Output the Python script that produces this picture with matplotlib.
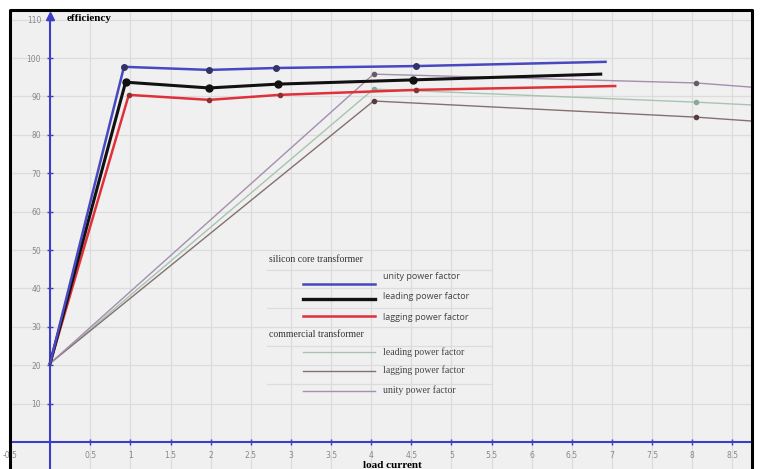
import numpy as np
import matplotlib
matplotlib.use('Agg')
import matplotlib.pyplot as plt

# ── Data ────────────────────────────────────────────────────────────────
# silicon core transformer
si_unity_x = [0, 0.92, 1.98, 2.82, 4.56, 6.92]
si_unity_y = [20.5, 97.7, 96.9, 97.4, 97.9, 99.0]
si_lead_x = [0, 0.94, 1.98, 2.84, 4.52, 6.86]
si_lead_y = [20.5, 93.7, 92.2, 93.2, 94.3, 95.8]
si_lag_x = [0, 0.98, 1.98, 2.86, 4.56, 7.04]
si_lag_y = [20.5, 90.4, 89.1, 90.4, 91.7, 92.7]

# commercial transformer
com_x = [0, 4.03, 8.05, 9.0]
com_lead_y = [20.5, 91.9, 88.5, 87.5]
com_lag_y = [20.5, 88.8, 84.6, 83.2]
com_unity_y = [20.5, 95.8, 93.5, 92.0]

x_ticks = [-0.5, 0.5, 1, 1.5, 2, 2.5, 3, 3.5, 4, 4.5, 5, 5.5, 6, 6.5, 7, 7.5, 8, 8.5]
x_tick_labels = ['-0.5', '0.5', '1', '1.5', '2', '2.5', '3', '3.5', '4', '4.5',
                 '5', '5.5', '6', '6.5', '7', '7.5', '8', '8.5']
y_ticks = [10, 20, 30, 40, 50, 60, 70, 80, 90, 100, 110]

legend_groups = [
    ('silicon core transformer', ['unity power factor', 'leading power factor', 'lagging power factor']),
    ('commercial transformer', ['leading power factor', 'lagging power factor', 'unity power factor']),
]

# ── Styles ──────────────────────────────────────────────────────────────
axis_blue = '#3e3ec4'
c_si_unity = '#4848c0'
c_si_lead = '#111111'
c_si_lag = '#e0303a'
c_com_lead = '#a8c4b0'
c_com_lag = '#857070'
c_com_unity = '#a58eae'

fig = plt.figure(figsize=(7.61, 4.69), dpi=100)
fig.patch.set_facecolor('white')
ax = fig.add_axes([10 / 761, 0, 742 / 761, 459 / 469])
ax.set_facecolor('#f0f0f0')

ax.set_xlim(-0.472, 8.745)
ax.set_ylim(-7.03, 112.5)

# grid
for gx in np.arange(-0.5, 9, 0.5):
    ax.axvline(gx, color='#dcdcdc', lw=0.9, zorder=0)
for gy in y_ticks:
    ax.axhline(gy, color='#dcdcdc', lw=0.9, zorder=0)

# ── Lines ───────────────────────────────────────────────────────────────
ax.plot(com_x, com_lead_y, color=c_com_lead, lw=1.0, marker='o', ms=3, markevery=[1, 2],
        mfc='#8aa898', mec='#8aa898', zorder=2)
ax.plot(com_x, com_lag_y, color=c_com_lag, lw=1.0, marker='o', ms=3, markevery=[1, 2],
        mfc='#5a3c3c', mec='#5a3c3c', zorder=2)
ax.plot(com_x, com_unity_y, color=c_com_unity, lw=1.0, marker='o', ms=3, markevery=[1, 2],
        mfc='#6a5a6a', mec='#6a5a6a', zorder=2)

ax.plot(si_lag_x, si_lag_y, color=c_si_lag, lw=1.8, marker='o', ms=3, markevery=[1, 2, 3, 4],
        mfc='#8a3030', mec='#8a3030', zorder=3)
ax.plot(si_lead_x, si_lead_y, color=c_si_lead, lw=2.2, marker='o', ms=5, markevery=[1, 2, 3, 4],
        zorder=3)
ax.plot(si_unity_x, si_unity_y, color=c_si_unity, lw=1.8, marker='o', ms=4, markevery=[1, 2, 3, 4],
        mfc='#333366', mec='#333366', zorder=3)

# ── Axes through the origin ────────────────────────────────────────────
for side in ['top', 'right']:
    ax.spines[side].set_visible(False)
ax.spines['left'].set_position(('data', 0))
ax.spines['bottom'].set_position(('data', 0))
ax.spines['left'].set_color(axis_blue)
ax.spines['bottom'].set_color(axis_blue)
ax.spines['left'].set_linewidth(1.5)
ax.spines['bottom'].set_linewidth(1.5)
ax.spines['left'].set_bounds(-7.03, 110.5)
ax.spines['left'].set_zorder(1)
ax.spines['bottom'].set_zorder(1)
ax.plot([0], [111], marker='^', color=axis_blue, ms=6, clip_on=False, zorder=4)

ax.set_xticks(x_ticks)
ax.set_xticklabels(x_tick_labels)
ax.set_yticks(y_ticks)
ax.tick_params(direction='inout', length=5, width=1, color=axis_blue,
               labelsize=5.5, labelcolor='#888888', pad=4)

# outer black frame (top, left, right)
ax.plot([0, 0, 1, 1], [0, 1, 1, 0], transform=ax.transAxes, color='black',
        lw=2.2, clip_on=False, zorder=5)

ax.text(0.2, 110.4, 'efficiency', family='Liberation Serif', weight='bold',
        fontsize=8, va='center', ha='left')
ax.text(4.27, -6.0, 'load current', family='Liberation Serif', weight='bold',
        fontsize=8, va='center', ha='center')

# ── Legend (drawn by hand, header rows + separators) ────────────────────
sep_y = [44.8, 34.9, 25.0, 15.1]
for sy in sep_y:
    ax.plot([2.7, 5.5], [sy, sy], color='#dcdcdc', lw=0.9, zorder=1)

handle_colors = [[c_si_unity, c_si_lead, c_si_lag], [c_com_lead, c_com_lag, c_com_unity]]
handle_widths = [[1.8, 2.4, 1.8], [1.0, 1.0, 1.0]]
header_y = [47.4, 28.1]
row_y = [[41.1, 37.2, 32.8], [23.4, 18.5, 13.3]]
label_y = [[43.2, 37.8, 32.3], [23.4, 18.6, 13.4]]
label_family = ['Open Sans', 'Liberation Serif']
label_size = [6.5, 7]
for g, (header, labels) in enumerate(legend_groups):
    ax.text(2.73, header_y[g], header, family='Liberation Serif', fontsize=7,
            color='#333333', va='center', ha='left')
    for i, lab in enumerate(labels):
        ax.plot([3.15, 4.05], [row_y[g][i], row_y[g][i]], color=handle_colors[g][i],
                lw=handle_widths[g][i], zorder=3)
        ax.text(4.15, label_y[g][i], lab, family=label_family[g], fontsize=label_size[g],
                color='#444444', va='center', ha='left')

fig.savefig('out.png', dpi=100)
